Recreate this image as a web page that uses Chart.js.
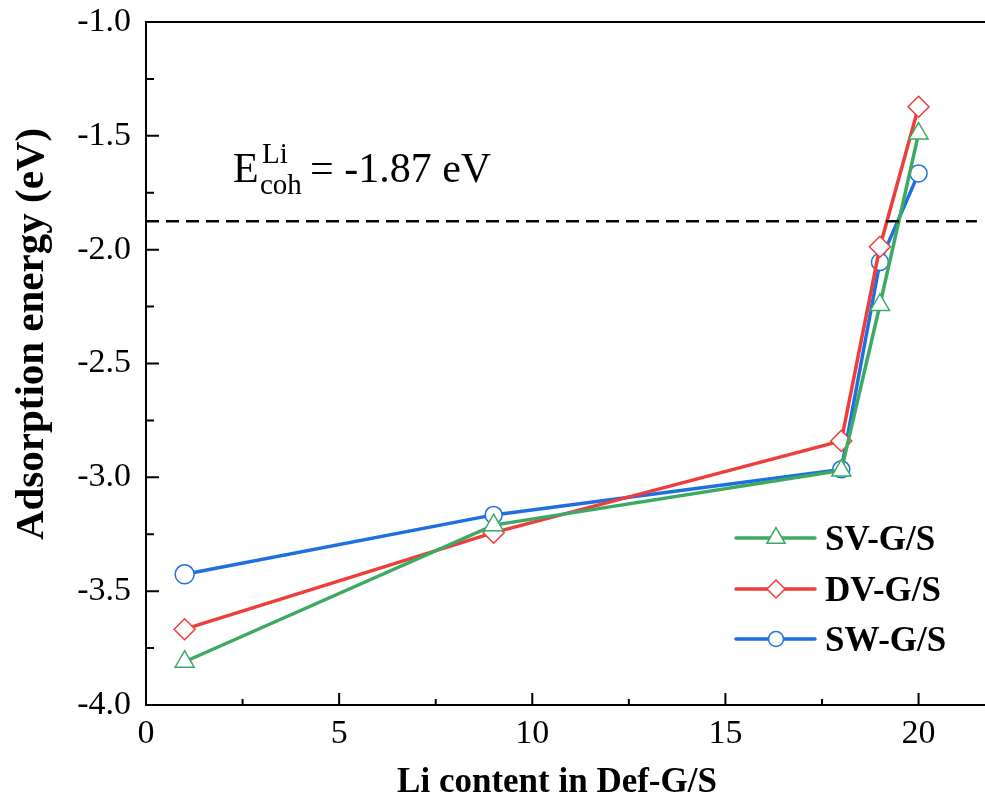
<!DOCTYPE html>
<html><head><meta charset="utf-8">
<script src="https://cdn.jsdelivr.net/npm/chart.js@4.4.1/dist/chart.umd.min.js"></script>
<style>html,body{margin:0;padding:0;background:#fff;} #wrap{width:985px;height:799px;}</style>
</head><body><div id="wrap"><canvas id="c" width="985" height="799"></canvas></div>
<script>
const liContent = [1, 9, 18, 19, 20];
const svValues = [-3.81, -3.21, -2.97, -2.243, -1.49];
const dvValues = [-3.667, -3.243, -2.84, -1.987, -1.372];
const swValues = [-3.426, -3.165, -2.965, -2.054, -1.665];
const cohesiveEnergy = -1.875;
const cohLineX = [0, 21.51];
const seriesNames = ['SV-G/S', 'DV-G/S', 'SW-G/S'];
const xTicks = [0, 5, 10, 15, 20];
const xMinorTicks = [2.5, 7.5, 12.5, 17.5];
const yTicks = [-4.0, -3.5, -3.0, -2.5, -2.0, -1.5, -1.0];
const yMinorTicks = [-3.75, -3.25, -2.75, -2.25, -1.75, -1.25];
const xTitle = 'Li content in Def-G/S';
const yTitle = 'Adsorption energy (eV)';

const colors = ['#3DAA63', '#EE3D3D', '#1E6FE0'];
const styles = ['triangle', 'rectRot', 'circle'];
const SERIF = '"Liberation Serif", "Times New Roman", serif';

function pts(xs, ys) { return xs.map((x, i) => ({x: x, y: ys[i]})); }

const series = [svValues, dvValues, swValues];
const radii = [[11,11,11,11,11],[10.5,10.5,10.5,10.5,10.5],[9.5,8.5,8.5,8.5,8.5]];
const datasets = series.map((vals, i) => ({
  label: seriesNames[i],
  data: pts(liContent, vals),
  borderColor: colors[i],
  borderWidth: 3.5,
  pointStyle: styles[i],
  pointRadius: radii[i],
  pointBackgroundColor: '#fff',
  pointBorderColor: colors[i],
  pointBorderWidth: 1.5,
  tension: 0
}));
datasets.unshift({
  label: 'coh',
  data: pts(cohLineX, [cohesiveEnergy, cohesiveEnergy]),
  borderColor: '#000',
  borderWidth: 2.4,
  borderDash: [13, 7],
  pointRadius: 0
});

const decor = {
  id: 'decor',
  afterDraw(chart) {
    const ctx = chart.ctx, xs = chart.scales.x, ys = chart.scales.y, a = chart.chartArea;
    ctx.save();
    ctx.strokeStyle = '#000';
    ctx.lineWidth = 2;
    ctx.beginPath(); ctx.moveTo(a.left, a.top); ctx.lineTo(a.right, a.top); ctx.stroke();
    ctx.beginPath();
    xTicks.forEach(v => { const p = xs.getPixelForValue(v); ctx.moveTo(p, a.bottom); ctx.lineTo(p, a.bottom - 12); });
    xMinorTicks.forEach(v => { const p = xs.getPixelForValue(v); ctx.moveTo(p, a.bottom); ctx.lineTo(p, a.bottom - 6); });
    yTicks.forEach(v => { const p = ys.getPixelForValue(v); ctx.moveTo(a.left, p); ctx.lineTo(a.left + 13, p); });
    yMinorTicks.forEach(v => { const p = ys.getPixelForValue(v); ctx.moveTo(a.left, p); ctx.lineTo(a.left + 8, p); });
    ctx.stroke();

    ctx.fillStyle = '#000';
    ctx.textAlign = 'center';
    ctx.textBaseline = 'alphabetic';
    ctx.font = 'bold 35px ' + SERIF;
    ctx.fillText(xTitle, 557, 792);
    ctx.save();
    ctx.translate(43, 334);
    ctx.rotate(-Math.PI / 2);
    ctx.font = 'bold 41px ' + SERIF;
    ctx.fillText(yTitle, 0, 0);
    ctx.restore();

    ctx.textAlign = 'left';
    ctx.font = '42px ' + SERIF;
    ctx.fillText('E', 233, 182);
    ctx.font = '29px ' + SERIF;
    ctx.fillText('Li', 262, 163);
    ctx.fillText('coh', 260, 194);
    ctx.font = '42px ' + SERIF;
    ctx.fillText('= -1.87 eV', 310, 182);

    const rows = [538, 589, 639];
    const lr = [10.5, 9, 7.5];
    seriesNames.forEach((name, i) => {
      const y = rows[i];
      ctx.strokeStyle = colors[i];
      ctx.lineWidth = 3.5;
      ctx.lineCap = 'round';
      ctx.beginPath(); ctx.moveTo(736, y); ctx.lineTo(815, y); ctx.stroke();
      ctx.fillStyle = '#fff';
      ctx.lineWidth = 1.5;
      Chart.helpers.drawPoint(ctx, {pointStyle: styles[i], radius: lr[i], rotation: 0, borderWidth: 1.5}, 776, y);
      ctx.fillStyle = '#000';
      ctx.font = 'bold 35px ' + SERIF;
      ctx.textBaseline = 'alphabetic';
      ctx.fillText(name, 825, y + 12);
    });
    ctx.restore();
  }
};

function zeroPad(s) { s.paddingTop = 0; s.paddingBottom = 0; s.paddingLeft = 0; s.paddingRight = 0; }

new Chart(document.getElementById('c'), {
  type: 'line',
  data: { datasets: datasets },
  plugins: [decor],
  options: {
    responsive: false,
    animation: false,
    devicePixelRatio: 1,
    layout: { autoPadding: false, padding: { top: 22, right: 0, left: 0, bottom: 0 } },
    plugins: { legend: { display: false }, tooltip: { enabled: false } },
    scales: {
      x: {
        type: 'linear', min: 0, max: 21.72,
        afterBuildTicks: s => { s.ticks = xTicks.map(v => ({value: v})); },
        afterFit: s => { s.height = 94; zeroPad(s); },
        grid: { display: false, drawTicks: false },
        border: { display: true, color: '#000', width: 2 },
        ticks: { autoSkip: false, maxRotation: 0, padding: 9, color: '#000',
                 font: { family: SERIF, size: 34 }, callback: v => String(v) }
      },
      y: {
        type: 'linear', min: -4, max: -1,
        afterBuildTicks: s => { s.ticks = yTicks.map(v => ({value: v})); },
        afterFit: s => { s.width = 146; zeroPad(s); },
        grid: { display: false, drawTicks: false },
        border: { display: true, color: '#000', width: 2 },
        ticks: { autoSkip: false, padding: 15, color: '#000',
                 font: { family: SERIF, size: 34 }, callback: v => v.toFixed(1) }
      }
    }
  }
});
</script>
</body></html>
